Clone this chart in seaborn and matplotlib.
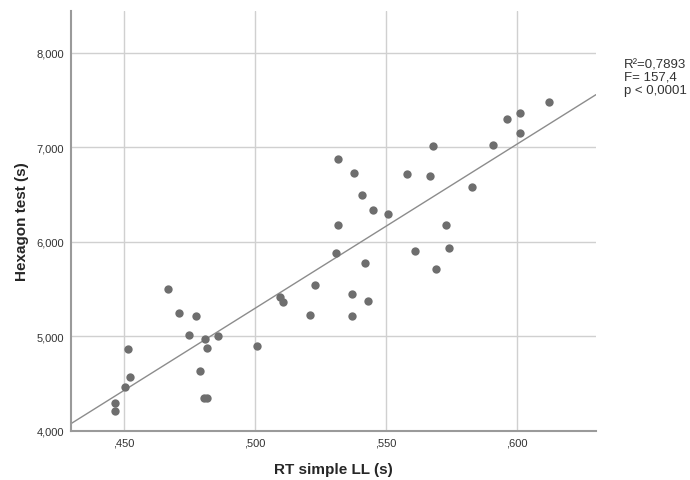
import pandas as pd
import matplotlib
matplotlib.use("Agg")
import matplotlib.pyplot as plt
from matplotlib.ticker import FuncFormatter
import seaborn as sns

# --- Data ---
rt_simple_ll = [0.4468, 0.4468, 0.4505, 0.4525, 0.4517, 0.4669, 0.4711, 0.4749, 0.4778,
                0.4810, 0.4819, 0.4790, 0.4806, 0.4819, 0.4859, 0.5008, 0.5098, 0.5109,
                0.5209, 0.5229, 0.5309, 0.5319, 0.5319, 0.5369, 0.5369, 0.5379, 0.5409,
                0.5421, 0.5430, 0.5449, 0.5509, 0.5579, 0.5609, 0.5669, 0.5679, 0.5689,
                0.5729, 0.5739, 0.5829, 0.5909, 0.5959, 0.6009, 0.6009, 0.6119]
hexagon_test = [4.21, 4.30, 4.47, 4.57, 4.87, 5.50, 5.25, 5.02, 5.22,
                4.97, 4.88, 4.63, 4.35, 4.35, 5.00, 4.90, 5.42, 5.36,
                5.23, 5.54, 5.88, 6.18, 6.88, 5.45, 5.22, 6.73, 6.49,
                5.78, 5.37, 6.34, 6.29, 6.72, 5.90, 6.70, 7.01, 5.71,
                6.18, 5.93, 6.58, 7.02, 7.30, 7.36, 7.15, 7.48]
stats_lines = ["R\u00b2=0,7893", "F= 157,4", "p < 0,0001"]

df = pd.DataFrame({"rt": rt_simple_ll, "hex": hexagon_test})

sns.set_style("white")
plt.rcParams["font.family"] = ["Liberation Sans", "DejaVu Sans"]

fig = plt.figure(figsize=(6.9, 4.81), dpi=100)
ax = fig.add_axes([0.1029, 0.1019, 0.7609, 0.8731])

# limits first so the fit line spans the whole axis
ax.set_xlim(0.430, 0.630)
ax.set_ylim(4.0, 8.44)

sns.regplot(data=df, x="rt", y="hex", ax=ax, ci=None, truncate=False,
            scatter_kws={"s": 36, "color": "#6e6e6e", "linewidths": 0, "alpha": 1, "zorder": 3},
            line_kws={"color": "#8c8c8c", "lw": 1.0, "zorder": 2})

ax.set_xlim(0.430, 0.630)
ax.set_ylim(4.0, 8.44)
ax.set_xticks([0.45, 0.50, 0.55, 0.60])
ax.set_yticks([4, 5, 6, 7, 8])
ax.xaxis.set_major_formatter(FuncFormatter(lambda v, p: f"{v:.3f}".replace("0.", ",")))
ax.yaxis.set_major_formatter(FuncFormatter(lambda v, p: f"{v:.3f}".replace(".", ",")))
ax.grid(True, color="#d0d0d0", lw=1.0)
ax.set_axisbelow(True)
ax.tick_params(length=0, labelsize=8, colors="#333333", pad=5)

for side in ["top", "right"]:
    ax.spines[side].set_visible(False)
for side in ["left", "bottom"]:
    ax.spines[side].set_color("#9a9a9a")
    ax.spines[side].set_linewidth(1.5)

ax.set_xlabel("RT simple LL (s)", fontsize=11, fontweight="bold", labelpad=10)
ax.set_ylabel("Hexagon test (s)", fontsize=11, fontweight="bold", labelpad=5)

fig.text(624 / 690, 1 - 59 / 481, "\n".join(stats_lines), fontsize=9.5,
         va="top", ha="left", color="#333333", linespacing=1.1)

fig.savefig("out.png", dpi=100)
